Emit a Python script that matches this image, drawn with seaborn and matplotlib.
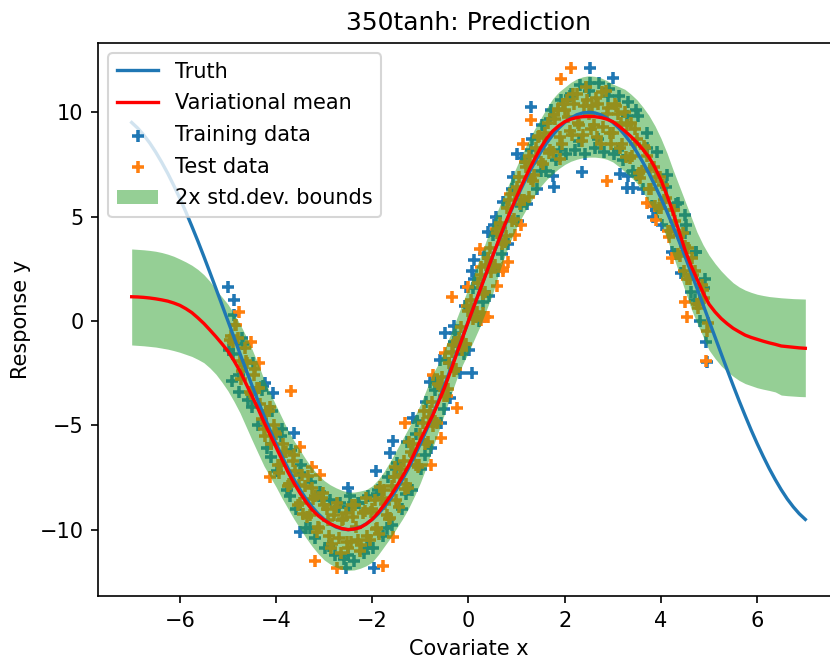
import matplotlib
matplotlib.use("Agg")
import matplotlib.pyplot as plt
import seaborn as sns

# curves on a 0.125 grid
grid_x = [-7, -6.875, -6.75, -6.625, -6.5, -6.375, -6.25, -6.125, -6, -5.875, -5.75, -5.625, -5.5, -5.375, -5.25, -5.125,
          -5, -4.875, -4.75, -4.625, -4.5, -4.375, -4.25, -4.125, -4, -3.875, -3.75, -3.625, -3.5, -3.375, -3.25, -3.125,
          -3, -2.875, -2.75, -2.625, -2.5, -2.375, -2.25, -2.125, -2, -1.875, -1.75, -1.625, -1.5, -1.375, -1.25, -1.125,
          -1, -0.875, -0.75, -0.625, -0.5, -0.375, -0.25, -0.125, 0, 0.125, 0.25, 0.375, 0.5, 0.625, 0.75, 0.875,
          1, 1.125, 1.25, 1.375, 1.5, 1.625, 1.75, 1.875, 2, 2.125, 2.25, 2.375, 2.5, 2.625, 2.75, 2.875,
          3, 3.125, 3.25, 3.375, 3.5, 3.625, 3.75, 3.875, 4, 4.125, 4.25, 4.375, 4.5, 4.625, 4.75, 4.875,
          5, 5.125, 5.25, 5.375, 5.5, 5.625, 5.75, 5.875, 6, 6.125, 6.25, 6.375, 6.5, 6.625, 6.75, 6.875, 7]
truth_y = [9.51, 9.24, 8.91, 8.53, 8.09, 7.6, 7.07, 6.49, 5.88, 5.23, 4.54, 3.83, 3.09, 2.33, 1.56, 0.78,
           0, -0.78, -1.56, -2.33, -3.09, -3.83, -4.54, -5.23, -5.88, -6.49, -7.07, -7.6, -8.09, -8.53, -8.91, -9.24,
           -9.51, -9.72, -9.88, -9.97, -10, -9.97, -9.88, -9.72, -9.51, -9.24, -8.91, -8.53, -8.09, -7.6, -7.07, -6.49,
           -5.88, -5.23, -4.54, -3.83, -3.09, -2.33, -1.56, -0.78, 0, 0.78, 1.56, 2.33, 3.09, 3.83, 4.54, 5.23,
           5.88, 6.49, 7.07, 7.6, 8.09, 8.53, 8.91, 9.24, 9.51, 9.72, 9.88, 9.97, 10, 9.97, 9.88, 9.72,
           9.51, 9.24, 8.91, 8.53, 8.09, 7.6, 7.07, 6.49, 5.88, 5.23, 4.54, 3.83, 3.09, 2.33, 1.56, 0.78,
           0, -0.78, -1.56, -2.33, -3.09, -3.83, -4.54, -5.23, -5.88, -6.49, -7.07, -7.6, -8.09, -8.53, -8.91, -9.24, -9.51]
mean_y = [1.16, 1.15, 1.13, 1.10, 1.06, 1.01, 0.95, 0.86, 0.75, 0.59, 0.4, 0.15, -0.12, -0.43, -0.75, -1.09,
          -1.45, -1.9, -2.4, -3.0, -3.6, -4.2, -4.85, -5.45, -6.05, -6.65, -7.25, -7.78, -8.25, -8.68, -9.05, -9.33,
          -9.55, -9.72, -9.85, -9.95, -10.0, -9.97, -9.9, -9.73, -9.5, -9.18, -8.8, -8.39, -7.95, -7.47, -6.95, -6.34,
          -5.7, -5.12, -4.55, -3.9, -3.2, -2.42, -1.6, -0.8, 0, 0.78, 1.55, 2.32, 3.1, 3.85, 4.6, 5.28,
          5.95, 6.6, 7.2, 7.77, 8.3, 8.75, 9.1, 9.35, 9.55, 9.67, 9.75, 9.79, 9.8, 9.79, 9.75, 9.67,
          9.55, 9.34, 9.1, 8.84, 8.55, 8.22, 7.85, 7.35, 6.75, 6.02, 5.2, 4.3, 3.4, 2.65, 2.0, 1.36,
          0.8, 0.43, 0.12, -0.13, -0.35, -0.52, -0.68, -0.79, -0.88, -0.97, -1.05, -1.12, -1.2, -1.23, -1.26, -1.29, -1.31]
upper_y = [3.45, 3.43, 3.41, 3.38, 3.34, 3.28, 3.2, 3.1, 2.97, 2.83, 2.67, 2.47, 2.22, 1.9, 1.5, 1.15,
           0.8, 0.35, -0.15, -0.72, -1.35, -2.05, -2.8, -3.45, -4.05, -4.65, -5.25, -5.75, -6.2, -6.65, -7.05, -7.38,
           -7.65, -7.85, -8.0, -8.12, -8.2, -8.2, -8.15, -8.08, -7.9, -7.6, -7.2, -6.72, -6.2, -5.68, -5.15, -4.6,
           -4.0, -3.28, -2.55, -2.05, -1.35, -0.65, 0.1, 0.85, 1.6, 2.35, 3.1, 3.9, 4.7, 5.4, 6.1, 6.75,
           7.4, 8.05, 8.65, 9.2, 9.7, 10.2, 10.65, 10.97, 11.2, 11.43, 11.6, 11.7, 11.75, 11.72, 11.65, 11.52,
           11.35, 11.23, 11.1, 10.87, 10.6, 10.25, 9.85, 9.35, 8.75, 8.05, 7.25, 6.5, 5.75, 5.0, 4.25, 3.65,
           3.15, 2.75, 2.4, 2.1, 1.83, 1.63, 1.48, 1.37, 1.28, 1.22, 1.17, 1.14, 1.11, 1.09, 1.07, 1.06, 1.05]
lower_y = [-1.15, -1.17, -1.19, -1.22, -1.25, -1.3, -1.35, -1.42, -1.5, -1.6, -1.7, -1.84, -2.0, -2.25, -2.55, -2.93,
           -3.35, -3.85, -4.4, -5.05, -5.7, -6.33, -6.95, -7.45, -7.95, -8.5, -9.0, -9.5, -9.95, -10.4, -10.8, -11.15,
           -11.45, -11.65, -11.8, -11.9, -11.95, -11.93, -11.85, -11.73, -11.55, -11.2, -10.8, -10.4, -9.95, -9.5, -9.0, -8.4,
           -7.75, -7.0, -6.1, -5.3, -4.45, -3.6, -2.8, -2.1, -1.5, -0.85, -0.2, 0.55, 1.3, 2.25, 3.1, 3.85,
           4.5, 5.05, 5.55, 6.02, 6.45, 6.78, 7.05, 7.3, 7.5, 7.65, 7.75, 7.82, 7.85, 7.85, 7.82, 7.75,
           7.62, 7.4, 7.15, 6.9, 6.6, 6.2, 5.7, 5.2, 4.7, 3.95, 3.15, 2.3, 1.45, 0.6, -0.1, -0.75,
           -1.4, -1.8, -2.15, -2.42, -2.65, -2.85, -3.0, -3.1, -3.2, -3.27, -3.33, -3.4, -3.55, -3.58, -3.6, -3.62, -3.63]

# training points
train_x = [-4.99, -4.87, -4.06, -3.62, -4.92, -4.78, -4.23, -3.5, -2.51, -2.46, -1.93, -1.57, -1.63, -1.97, -2.54,
           2.53, 3.0, 1.3, 1.0, 1.76, 1.77, 2.36, 3.14, 3.29, 3.41, 3.32, -0.49, -0.31, -0.59, 0.07, -0.81,
           0.07, 0.11, -0.05, 0.41, 0.58, 4.94, 4.49, 3.83, 4.73, 4.35, 3.49, 4.95, -1.15,
           -4.98, -4.88, -4.78, -4.68, -4.58, -4.48, -4.38, -4.28, -4.18, -4.08, -3.98, -3.88, -3.78, -3.68, -3.58, -3.48,
           -3.38, -3.28, -3.18, -3.08, -2.98, -2.88, -2.78, -2.68, -2.58, -2.48, -2.38, -2.28, -2.18, -2.08, -1.98, -1.88,
           -1.78, -1.68, -1.58, -1.48, -1.38, -1.28, -1.18, -1.08, -0.98, -0.88, -0.78, -0.68, -0.58, -0.48, -0.38, -0.28,
           -0.18, -0.08, 0.02, 0.12, 0.22, 0.32, 0.42, 0.52, 0.62, 0.72, 0.82, 0.92, 1.02, 1.12, 1.22, 1.32,
           1.42, 1.52, 1.62, 1.72, 1.82, 1.92, 2.02, 2.12, 2.22, 2.32, 2.42, 2.52, 2.62, 2.72, 2.82, 2.92,
           3.02, 3.12, 3.22, 3.32, 3.42, 3.52, 3.62, 3.72, 3.82, 3.92, 4.02, 4.12, 4.22, 4.32, 4.42, 4.52,
           4.62, 4.72, 4.82, 4.92,
           -4.9, -4.7, -4.5, -4.3, -4.1, -3.9, -3.7, -3.5, -3.3, -3.1, -2.9, -2.7, -2.5, -2.3, -2.1, -1.9,
           -1.7, -1.5, -1.3, -1.1, -0.9, -0.7, -0.5, -0.3, -0.1, 0.1, 0.3, 0.5, 0.7, 0.9, 1.1, 1.3,
           1.5, 1.7, 1.9, 2.1, 2.3, 2.5, 2.7, 2.9, 3.1, 3.3, 3.5, 3.7, 3.9, 4.1, 4.3, 4.5, 4.7, 4.9]
train_y = [1.64, 1.0, -3.43, -5.35, -2.9, -3.39, -2.95, -10.1, -8.02, -8.39, -7.17, -5.75, -6.34, -11.85, -11.85,
           12.11, 11.63, 10.27, 8.0, 6.95, 6.41, 7.15, 7.04, 6.36, 6.36, 6.95, -0.59, -0.24, -1.87, -2.48, -2.91,
           2.41, 2.92, 1.64, 4.28, 5.0, -0.99, 5.08, 5.0, 3.32, 5.67, 10.11, -1.95, -4.65,
           -1.4, 0.3, -2.6, -1.1, -3.8, -2.0, -5.0, -3.1, -6.1, -4.3, -7.2, -5.2, -8.1, -6.2, -9.0, -6.9,
           -9.9, -7.7, -10.4, -8.2, -10.9, -8.6, -11.2, -8.7, -11.4, -8.9, -11.5, -8.7, -11.1, -8.4, -10.9, -8.1,
           -10.3, -7.5, -9.8, -6.8, -9.0, -5.8, -8.1, -4.8, -7.1, -3.9, -6.1, -2.9, -4.9, -1.8, -3.7, -0.6,
           -2.5, 0.7, -1.4, 2.0, 0.0, 3.2, 1.2, 4.6, 2.4, 5.7, 3.7, 6.9, 4.8, 7.8, 5.6, 8.7,
           6.3, 9.4, 7.2, 10.1, 7.7, 10.6, 8.0, 10.9, 8.2, 11.3, 8.0, 11.4, 8.3, 11.4, 8.1, 11.1,
           8.0, 10.8, 7.7, 10.5, 7.2, 9.8, 6.3, 9.0, 5.5, 8.1, 4.6, 7.0, 3.3, 5.6, 2.3, 4.6,
           1.4, 3.3, 0.0, 2.0,
           -1.6, -0.8, -4.1, -3.3, -6.5, -5.5, -8.4, -7.3, -9.9, -8.4, -10.8, -8.9, -11.2, -8.7, -10.9, -8.3,
           -9.9, -7.1, -8.3, -5.4, -6.4, -3.3, -4.2, -1.0, -1.6, 1.6, 0.9, 4.1, 3.2, 6.3, 5.5, 8.2,
           7.2, 9.7, 8.2, 10.8, 8.6, 11.0, 8.7, 10.8, 8.2, 9.8, 7.0, 8.3, 5.3, 6.4, 3.2, 4.2, 1.0, 1.6]

# test points
test_x = [-4.78, -3.69, -3.5, -3.2, -1.77, -2.74, -4.12, -4.51, -4.35, -3.26, -3.09, -1.57,
          2.12, 1.92, 1.3, 1.14, 1.9, 2.87, -0.35, 0.24, 0.83, 0.72, 0.72, 0.6, 0.0, 0.34, 0.3, 0.41, 0.27,
          -0.73, 1.1, 0.96, 3.7, 3.9, 4.49, 4.54, 4.94, 4.22, 1.26, -0.49, -0.24, -0.57, -1.32, -0.78,
          -4.95, -4.85, -4.75, -4.65, -4.55, -4.45, -4.35, -4.25, -4.15, -4.05, -3.95, -3.85, -3.75, -3.65, -3.55, -3.45,
          -3.35, -3.25, -3.15, -3.05, -2.95, -2.85, -2.75, -2.65, -2.55, -2.45, -2.35, -2.25, -2.15, -2.05, -1.95, -1.85,
          -1.75, -1.65, -1.55, -1.45, -1.35, -1.25, -1.15, -1.05, -0.95, -0.85, -0.75, -0.65, -0.55, -0.45, -0.35, -0.25,
          -0.15, -0.05, 0.05, 0.15, 0.25, 0.35, 0.45, 0.55, 0.65, 0.75, 0.85, 0.95, 1.05, 1.15, 1.25, 1.35,
          1.45, 1.55, 1.65, 1.75, 1.85, 1.95, 2.05, 2.15, 2.25, 2.35, 2.45, 2.55, 2.65, 2.75, 2.85, 2.95,
          3.05, 3.15, 3.25, 3.35, 3.45, 3.55, 3.65, 3.75, 3.85, 3.95, 4.05, 4.15, 4.25, 4.35, 4.45, 4.55,
          4.65, 4.75, 4.85, 4.95,
          -4.9, -4.8, -4.7, -4.6, -4.5, -4.4, -4.3, -4.2, -4.1, -4.0, -3.9, -3.8, -3.7, -3.6, -3.5, -3.4,
          -3.3, -3.2, -3.1, -3.0, -2.9, -2.8, -2.7, -2.6, -2.5, -2.4, -2.3, -2.2, -2.1, -2.0, -1.9, -1.8,
          -1.7, -1.6, -1.5, -1.4, -1.3, -1.2, -1.1, -1.0, -0.9, -0.8, -0.7, -0.6, -0.5, -0.4, -0.3, -0.2,
          -0.1, 0.0, 0.1, 0.2, 0.3, 0.4, 0.5, 0.6, 0.7, 0.8, 0.9, 1.0, 1.1, 1.2, 1.3, 1.4,
          1.5, 1.6, 1.7, 1.8, 1.9, 2.0, 2.1, 2.2, 2.3, 2.4, 2.5, 2.6, 2.7, 2.8, 2.9, 3.0,
          3.1, 3.2, 3.3, 3.4, 3.5, 3.6, 3.7, 3.8, 3.9, 4.0, 4.1, 4.2, 4.3, 4.4, 4.5, 4.6,
          4.7, 4.8, 4.9,
          -4.93, -4.83, -4.73, -4.63, -4.53, -4.43, -4.33, -4.23, -4.13, -4.03, -3.93, -3.83, -3.73, -3.63, -3.53, -3.43,
          -3.33, -3.23, -3.13, -3.03, -2.93, -2.83, -2.73, -2.63, -2.53, -2.43, -2.33, -2.23, -2.13, -2.03, -1.93, -1.83,
          -1.73, -1.63, -1.53, -1.43, -1.33, -1.23, -1.13, -1.03, -0.93, -0.83, -0.73, -0.63, -0.53, -0.43, -0.33, -0.23,
          -0.13, -0.03, 0.07, 0.17, 0.27, 0.37, 0.47, 0.57, 0.67, 0.77, 0.87, 0.97, 1.07, 1.17, 1.27, 1.37,
          1.47, 1.57, 1.67, 1.77, 1.87, 1.97, 2.07, 2.17, 2.27, 2.37, 2.47, 2.57, 2.67, 2.77, 2.87, 2.97,
          3.07, 3.17, 3.27, 3.37, 3.47, 3.57, 3.67, 3.77, 3.87, 3.97, 4.07, 4.17, 4.27, 4.37, 4.47, 4.57,
          4.67, 4.77, 4.87, 4.97]
test_y = [0.45, -3.34, -6.02, -11.49, -11.72, -11.85, -7.49, -0.99, -2.02, -6.98, -7.38, -10.33,
          12.11, 11.6, 9.63, 8.48, 7.75, 6.71, 1.13, 3.43, 2.81, 2.52, 2.4, 1.68, 1.64, 0.21, 0.4, 0.19, 0.05,
          -2.59, 4.6, 4.12, 5.64, 4.84, 0.92, 0.21, -1.9, 3.0, 5.96, -1.53, -4.15, -5.6, -4.89, -6.9,
          -0.9, -0.2, -1.9, -1.3, -3.4, -2.6, -3.2, -5.2, -4.3, -5.0, -6.9, -5.9, -7.9, -6.7, -8.8, -7.4,
          -9.4, -8.0, -10.1, -8.5, -9.0, -10.9, -8.9, -11.1, -9.2, -10.6, -8.8, -11.0, -9.1, -10.5, -8.6, -10.2,
          -8.1, -9.5, -7.5, -8.9, -6.7, -8.0, -5.9, -7.0, -4.9, -5.8, -3.9, -4.9, -2.7, -3.6, -1.5, -2.3,
          -0.3, -1.1, 1.0, 0.2, 2.2, 1.4, 3.5, 2.7, 4.7, 3.8, 5.8, 4.9, 6.9, 5.8, 7.9, 6.7,
          8.8, 7.5, 9.5, 8.1, 10.1, 8.5, 10.6, 8.9, 10.9, 8.6, 11.2, 9.2, 10.7, 8.5, 11.0, 9.0,
          10.4, 8.3, 10.0, 7.8, 9.2, 7.1, 8.4, 6.3, 7.4, 5.4, 6.5, 4.3, 5.3, 3.2, 4.2, 2.0,
          3.0, 0.8, 1.7, -0.5,
          -1.0, -0.8, -2.4, -2.0, -3.5, -3.2, -4.7, -4.3, -5.9, -5.4, -6.9, -6.3, -7.8, -7.2, -8.7, -7.9,
          -9.3, -8.4, -9.9, -8.8, -10.3, -9.3, -10.4, -9.5, -10.9, -9.4, -10.5, -9.2, -10.3, -9.0, -9.9, -8.5,
          -9.3, -7.9, -8.6, -7.1, -7.8, -6.3, -6.9, -5.4, -5.9, -4.3, -4.8, -3.1, -3.6, -2.0, -2.4, -0.8,
          -1.1, 0.5, 0.1, 1.8, 1.3, 3.0, 2.6, 4.2, 3.7, 5.4, 4.8, 6.4, 5.8, 7.4, 6.8, 8.3,
          7.6, 9.0, 8.2, 9.7, 8.8, 10.1, 9.1, 10.4, 9.4, 10.3, 9.9, 9.4, 10.4, 9.3, 10.2, 9.0,
          9.9, 8.5, 9.4, 7.9, 8.7, 7.2, 7.9, 6.3, 6.9, 5.4, 5.9, 4.3, 4.8, 3.1, 3.6, 2.0,
          2.4, 0.8, 1.1,
          -0.7, -0.2, -2.8, -1.9, -3.5, -2.3, -4.0, -5.5, -4.1, -5.3, -7.3, -6.3, -7.8, -6.4, -7.85, -9.25,
          -7.45, -8.55, -9.85, -8.25, -9.55, -10.7, -8.7, -9.55, -10.6, -8.8, -9.85, -10.75, -8.5, -9.15, -9.95, -7.95,
          -8.75, -9.45, -7.0, -7.4, -8.05, -5.8, -6.4, -6.9, -4.3, -4.6, -5.05, -3.0, -3.2, -3.25, -1.15, -1.0,
          -1.4, 0.7, 0.55, 0.45, 2.6, 2.7, 2.35, 4.4, 4.45, 4.05, 6.1, 6.1, 5.6, 7.6, 7.55, 7.0,
          8.85, 8.75, 8.05, 9.85, 10.15, 10.4, 9.75, 10.9, 9.5, 8.9, 10.6, 10.3, 8.8, 10.95, 9.9, 8.5,
          10.3, 9.5, 7.85, 9.5, 8.5, 6.85, 8.3, 7.3, 5.5, 6.9, 5.8, 4.0, 5.3, 4.1, 2.4, 3.5,
          2.2, 0.6, 1.5, -0.1]

fig = plt.figure(figsize=(830 / 150, 656 / 150), dpi=150)
# axes run a little past the right edge, same as the reference crop
ax = fig.add_axes([98 / 830, 60 / 656, 741 / 830, 553 / 656])

sns.lineplot(x=grid_x, y=truth_y, color="C0", linewidth=1.6, label="Truth", errorbar=None, ax=ax)
sns.lineplot(x=grid_x, y=mean_y, color="r", linewidth=1.6, label="Variational mean", errorbar=None, ax=ax)
sns.scatterplot(x=train_x, y=train_y, marker="+", color="C0", s=36, linewidth=1.7, label="Training data", ax=ax)
sns.scatterplot(x=test_x, y=test_y, marker="+", color="C1", s=36, linewidth=1.7, label="Test data", ax=ax)
ax.fill_between(grid_x, lower_y, upper_y, color="C2", alpha=0.5, linewidth=0, label="2x std.dev. bounds")

ax.set_xlim(-7.7, 7.7)
ax.set_ylim(-13.18, 13.32)
ax.set_xlabel("Covariate x")
ax.set_ylabel("Response y")
ax.set_title("350tanh: Prediction")
ax.legend(loc="upper left", labelspacing=0.56)

fig.savefig("out.png", dpi=150)
